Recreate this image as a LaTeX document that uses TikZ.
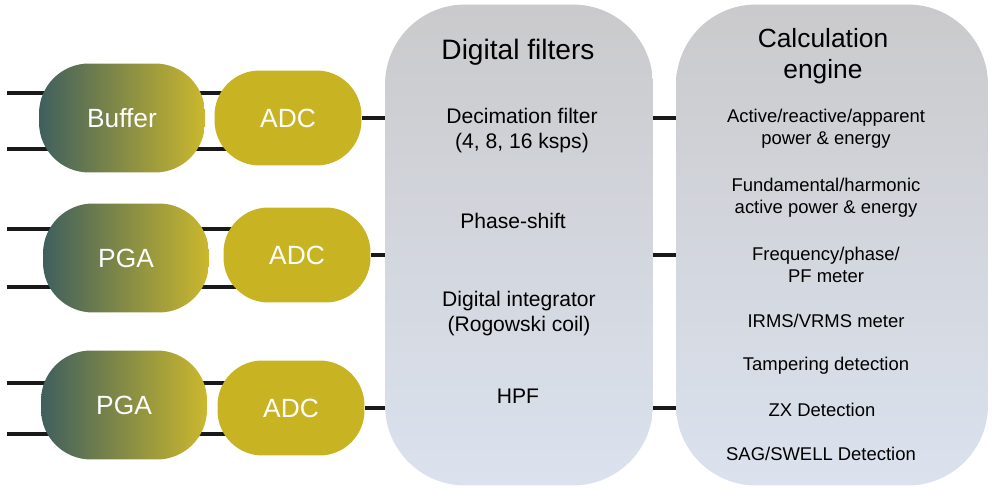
\documentclass[tikz,border=0pt]{standalone}
\usepackage{fontspec}
\setmainfont{Liberation Sans}
\usepackage{tikz}
\usetikzlibrary{positioning, backgrounds}
\definecolor{colorAdc}{RGB}{200,180,34}
\definecolor{colorSlate}{RGB}{63,95,94}
\definecolor{colorBoxTop}{RGB}{202,202,204}
\definecolor{colorBoxBottom}{RGB}{219,226,238}
\tikzset{
  frontend/.style={rounded corners=1cm, left color=colorSlate, right color=colorAdc!95!white,
    minimum width=3.32cm, minimum height=2.18cm, text=white, font=\fontsize{15}{18}\selectfont},
  adc/.style={rounded corners=0.9cm, fill=colorAdc, minimum width=2.94cm, minimum height=1.9cm,
    text=white, font=\fontsize{15}{18}\selectfont},
  block/.style={rounded corners=1.6cm, top color=colorBoxTop, bottom color=colorBoxBottom,
    minimum height=9.62cm},
  heading/.style={align=center, font=\fontsize{16}{17.6}\selectfont},
  filtitem/.style={align=center, font=\fontsize{12}{14.2}\selectfont},
  calcitem/.style={align=center, font=\fontsize{10.5}{12.3}\selectfont},
  wire/.style={line width=2.2pt, black!90}
}

\begin{document}
\begin{tikzpicture}[x=0.02cm, y=-0.02cm]
\useasboundingbox (0,0) rectangle (994,489);

% digital filters
\node[block, minimum width=5.36cm] (filt) at (519,245) {};
\node[heading] (filtHead) at (518,52) {Digital filters};
\node[filtitem] (decim) at (522,131) {Decimation filter\\(4, 8, 16 ksps)};
\node[filtitem] (phase) at (513,221) {Phase-shift};
\node[filtitem] (integ) at (519,314) {Digital integrator\\(Rogowski coil)};
\node[filtitem] (hpf) at (518,396) {HPF};

% calculation engine
\node[block, minimum width=6.24cm] (calc) at (832,245) {};
\node[heading, font=\fontsize{15}{17.6}\selectfont] (calcHead) at (823,56) {Calculation\\engine};
\node[calcitem] (power) at (826,129) {Active/reactive/apparent\\power \& energy};
\node[calcitem] (harm) at (826,198) {Fundamental/harmonic\\active power \& energy};
\node[calcitem] (freq) at (826,265) {Frequency/phase/\\PF meter};
\node[calcitem] (rms) at (826,321) {IRMS/VRMS meter};
\node[calcitem] (tamper) at (826,366) {Tampering detection};
\node[calcitem] (zx) at (822,410) {ZX Detection};
\node[calcitem] (sag) at (821,454) {SAG/SWELL Detection};

% analog front end
\node[frontend] (buf) at (122,118) {Buffer};
\node[adc] (adc1) at (288,118) {ADC};
\node[frontend] (pga1) at (126,258) {PGA};
\node[adc] (adc2) at (297,255) {ADC};
\node[frontend] (pga2) at (124,405) {PGA};
\node[adc] (adc3) at (291,408) {ADC};

\coordinate (in1a) at (7,93);
\coordinate (in1b) at (7,149);
\coordinate (in2a) at (7,229);
\coordinate (in2b) at (7,287);
\coordinate (in3a) at (7,383);
\coordinate (in3b) at (7,434);

\begin{scope}[on background layer]
\draw[wire] (in1a) -- (in1a -| adc1.center);
\draw[wire] (in1b) -- (in1b -| adc1.center);
\draw[wire] (in2a) -- (in2a -| adc2.center);
\draw[wire] (in2b) -- (in2b -| adc2.center);
\draw[wire] (in3a) -- (in3a -| adc3.center);
\draw[wire] (in3b) -- (in3b -| adc3.center);
\end{scope}

\draw[wire] (adc1.east) -- (adc1.east -| filt.west);
\draw[wire] (adc2.east) -- (adc2.east -| filt.west);
\draw[wire] (adc3.east) -- (adc3.east -| filt.west);
\draw[wire] (adc1.east -| filt.east) -- (adc1.east -| calc.west);
\draw[wire] (adc2.east -| filt.east) -- (adc2.east -| calc.west);
\draw[wire] (adc3.east -| filt.east) -- (adc3.east -| calc.west);
\end{tikzpicture}
\end{document}
